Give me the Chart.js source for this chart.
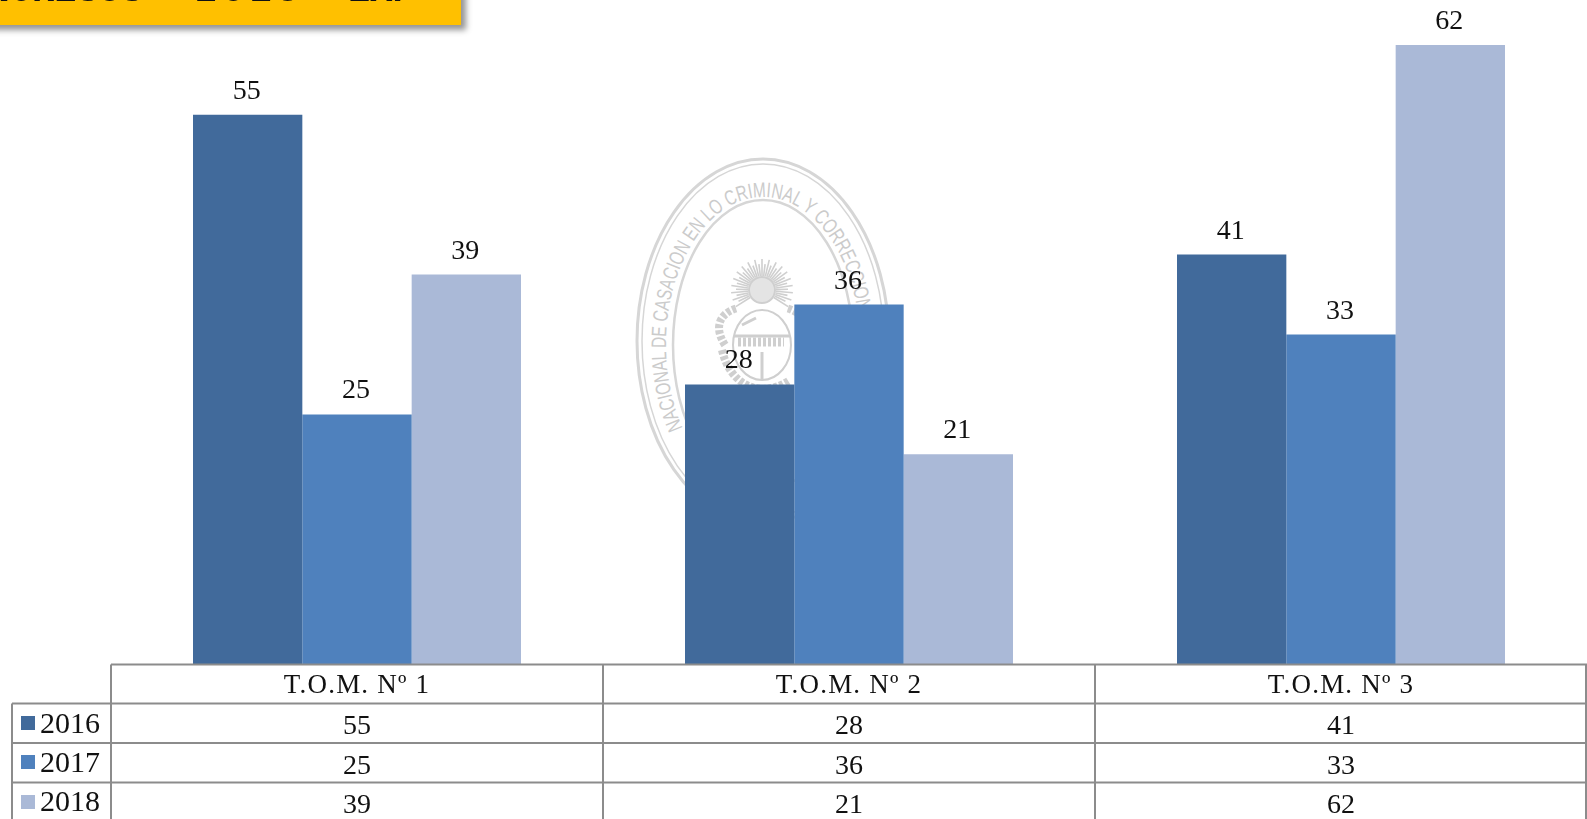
<!DOCTYPE html>
<html lang="es">
<head>
<meta charset="utf-8">
<title>Gráfico T.O.M.</title>
<script src="https://cdn.jsdelivr.net/npm/chart.js@4"></script>
<style>
html,body{margin:0;padding:0;background:#fff;width:1587px;height:819px;overflow:hidden;position:relative}
#seal{position:absolute;left:0;top:0;z-index:0}
#chart{position:absolute;left:0;top:0;z-index:1}
#banner{position:absolute;left:-20px;top:-40px;width:481px;height:65px;background:#FFC000;box-shadow:5px 5px 6px rgba(0,0,0,.42);z-index:2;overflow:hidden;
font:bold 37px "Liberation Mono",monospace;color:#111;white-space:nowrap;line-height:65px}
#banner span{position:absolute;top:-1px}
</style>
</head>
<body>
<svg id="seal" width="1587" height="819" xmlns="http://www.w3.org/2000/svg">
<g fill="none" stroke="#d6d6d6">
<ellipse cx="763" cy="341" rx="126" ry="182" stroke-width="3"/>
<ellipse cx="763" cy="341" rx="121" ry="177" stroke-width="1.5"/>
<ellipse cx="763" cy="345" rx="90" ry="145" stroke-width="2.5"/>
</g>
<defs><path id="sealPath" d="M763,493 A97,148 0 1 1 763,197 A97,148 0 1 1 763,493"/></defs>
<text font-family="Liberation Sans" font-size="21" fill="#cbcbcb" textLength="459" lengthAdjust="spacingAndGlyphs"><textPath href="#sealPath" startOffset="109">NACIONAL DE CASACION EN LO CRIMINAL Y CORRECCIONAL</textPath></text>
<g id="emblem" fill="none" stroke="#cfcfcf" stroke-width="2"></g>
</svg>
<canvas id="chart" width="1587" height="819"></canvas>
<div id="banner">
<span style="right:318px">INGRESOS</span>
<span style="left:215px;letter-spacing:5px">2018</span>
<span style="left:335px">-</span>
<span style="left:368px">EXP</span>
</div>
<script>
const categories = ["T.O.M. Nº 1", "T.O.M. Nº 2", "T.O.M. Nº 3"];
const seriesNames = ["2016", "2017", "2018"];
const values2016 = [55, 28, 41];
const values2017 = [25, 36, 33];
const values2018 = [39, 21, 62];
const seriesColors = ["#416A9B", "#4F81BD", "#AAB9D7"];

// decorative coat of arms in the seal
(function(){
  const g = document.getElementById('emblem');
  const ns = 'http://www.w3.org/2000/svg';
  const add = (n,a)=>{const e=document.createElementNS(ns,n);for(const k in a)e.setAttribute(k,a[k]);g.appendChild(e);return e;};
  const cx=762, cy=290;
  for(let i=-18;i<=18;i++){
    const t=i/18*Math.PI*0.68-Math.PI/2;
    const r=i%2?26:31;
    add('line',{x1:cx+14*Math.cos(t),y1:cy+14*Math.sin(t),x2:cx+r*Math.cos(t),y2:cy+r*Math.sin(t),'stroke-width':1.6});
  }
  add('circle',{cx:cx,cy:cy,r:13,fill:'#e4e4e4'});
  add('path',{d:'M725,345 C712,325 722,312 738,308 M800,345 C812,325 802,312 786,308','stroke-width':8,'stroke-dasharray':'4 2'});
  add('path',{d:'M722,350 C730,385 760,400 790,380','stroke-width':8,'stroke-dasharray':'4 2'});
  add('ellipse',{cx:762,cy:345,rx:29,ry:35,'stroke-width':2});
  add('path',{d:'M734,336 H790 M742,325 L756,318 M762,352 V380','stroke-width':3});
  add('path',{d:'M738,342 h46','stroke-width':9,'stroke-dasharray':'3 2'});
})();

const LEFT=111, TOP_PAD=5, BOTTOM=664;
const rowLines=[664.5,703.5,743,782.5];
const lineColor="#8C8C8C";
const digitFont='28px "Liberation Serif", serif';

const overlay={
  id:'tableAndLabels',
  afterDatasetsDraw(chart){
    const {ctx,scales:{x}}=chart;
    ctx.save();
    // value labels above the bars
    ctx.font=digitFont;
    ctx.fillStyle='#111';
    ctx.textAlign='center';
    ctx.textBaseline='alphabetic';
    chart.data.datasets.forEach((ds,i)=>{
      chart.getDatasetMeta(i).data.forEach((bar,j)=>{
        ctx.fillText(String(ds.data[j]),bar.x-1,bar.y-16);
      });
    });
    // data table grid
    const w=chart.width, h=chart.height;
    const step=x.getPixelForValue(1)-x.getPixelForValue(0);
    const colEdges=[x.left,...categories.map((c,i)=>x.getPixelForValue(i)+step/2)];
    ctx.strokeStyle=lineColor; ctx.lineWidth=2;
    ctx.beginPath();
    ctx.moveTo(LEFT,rowLines[0]); ctx.lineTo(w,rowLines[0]);
    rowLines.slice(1).forEach(y=>{ctx.moveTo(12,y);ctx.lineTo(w,y);});
    ctx.moveTo(12,rowLines[1]);ctx.lineTo(12,h);
    colEdges.forEach((e,i)=>{const X=Math.min(e,w-1);ctx.moveTo(X,rowLines[0]);ctx.lineTo(X,h);});
    ctx.stroke();
    // header row
    ctx.fillStyle='#111';
    ctx.font='27px "Liberation Serif", serif';
    ctx.letterSpacing='1.2px';
    categories.forEach((c,i)=>ctx.fillText(c,x.getPixelForValue(i),693));
    ctx.letterSpacing='0px';
    // series rows
    const rowBase=[732.5,772,811];
    const swatchTop=[716,755,795];
    const cellBase=[734,773.5,813];
    chart.data.datasets.forEach((ds,r)=>{
      ctx.fillStyle=ds.backgroundColor;
      ctx.fillRect(21,swatchTop[r],14,14);
      ctx.fillStyle='#111';
      ctx.textAlign='left';
      ctx.font='30px "Liberation Serif", serif';
      ctx.fillText(ds.label,40,rowBase[r]);
      ctx.textAlign='center';
      ctx.font=digitFont;
      ds.data.forEach((v,j)=>ctx.fillText(String(v),x.getPixelForValue(j),cellBase[r]));
    });
    ctx.restore();
  }
};

new Chart(document.getElementById('chart'),{
  type:'bar',
  data:{
    labels:categories,
    datasets:[
      {label:seriesNames[0],data:values2016,backgroundColor:seriesColors[0]},
      {label:seriesNames[1],data:values2017,backgroundColor:seriesColors[1]},
      {label:seriesNames[2],data:values2018,backgroundColor:seriesColors[2]}
    ]
  },
  options:{
    responsive:false,
    animation:false,
    layout:{padding:{left:LEFT,right:-1,top:TOP_PAD,bottom:819-BOTTOM}},
    datasets:{bar:{barPercentage:1,categoryPercentage:2/3,borderWidth:0}},
    plugins:{legend:{display:false},title:{display:false},tooltip:{enabled:false}},
    scales:{
      x:{display:false},
      y:{display:false,min:0,max:66}
    }
  },
  plugins:[overlay]
});
</script>
</body>
</html>
